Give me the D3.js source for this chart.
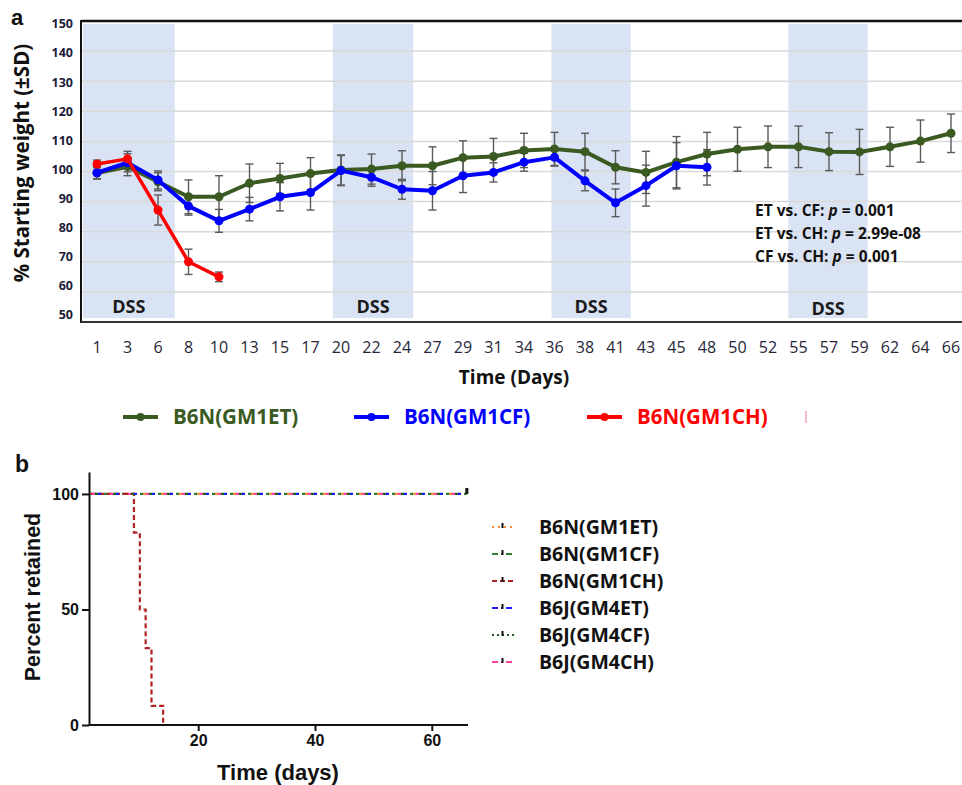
<!DOCTYPE html>
<html>
<head>
<meta charset="utf-8">
<script src="https://cdn.jsdelivr.net/npm/d3@7"></script>
<style>
  body { margin: 0; background: #fff; }
  svg { display: block; }
</style>
</head>
<body>
<svg id="fig" width="962" height="785"></svg>
<script>
// ---------- panel a : body weight ----------
var days = [1, 3, 6, 8, 10, 13, 15, 17, 20, 22, 24, 27, 29, 31, 34, 36, 38, 41, 43, 45, 48, 50, 52, 55, 57, 59, 62, 64, 66];
var etMean = [99.5, 101.6, 96.6, 91.6, 91.6, 96.1, 97.7, 99.3, 100.5, 100.8, 101.9, 101.9, 104.6, 105.0, 107.0, 107.5, 106.6, 101.4, 99.7, 103.1, 105.8, 107.4, 108.2, 108.2, 106.6, 106.5, 108.2, 110.1, 112.7];
var etSD = [2, 3, 3, 5.6, 7, 6.4, 5, 5.3, 5, 5, 5, 6.3, 5.6, 6, 5.7, 5.5, 6.1, 5.5, 7, 8.5, 7.2, 7.3, 6.9, 6.9, 6.3, 7.5, 6.5, 7, 6.4];
var cfMean = [99.6, 102.9, 97.2, 88.5, 83.6, 87.5, 91.6, 93.0, 100.3, 98.1, 94.1, 93.6, 98.6, 99.7, 103.1, 104.7, 96.9, 89.6, 95.3, 101.9, 101.4];
var cfSD = [2, 3, 3, 3, 3.8, 3.9, 4.7, 5.8, 5, 3, 3.3, 6.4, 5.6, 3.2, 3, 2.9, 3.3, 4.6, 6.8, 7.7, 5.9];
var chMean = [102.5, 104.2, 87.2, 70.0, 65.0];
var chSD = [1.3, 2.5, 5, 4.2, 1.6];
var yTicks = [50, 60, 70, 80, 90, 100, 110, 120, 130, 140, 150];
var dssPeriods = [[0, 7.1], [19.2, 25.1], [35.8, 42], [54, 59.8]];
var pTests = ["ET vs. CF: ", "ET vs. CH: ", "CF vs. CH: "];
var pValues = ["0.001", "2.99e-08", "0.001"];
var weightNames = ["B6N(GM1ET)", "B6N(GM1CF)", "B6N(GM1CH)"];
var weightColors = ["#3a5a22", "#0000ff", "#ff0000"];

// ---------- panel b : retention ----------
var retNames = ["B6N(GM1ET)", "B6N(GM1CF)", "B6N(GM1CH)", "B6J(GM4ET)", "B6J(GM4CF)", "B6J(GM4CH)"];
var retColors = ["#f7893b", "#2e7d32", "#b22222", "#1a1aff", "#1b5e20", "#ff3f9f"];
var retDash = ["2,4", "6,3,2,3", "5,3", "6,3,2,3", "2,3", "6,3,2,3"];
var chRetDays = [0, 9, 10, 11, 12, 14];
var chRetPct = [100, 83.3, 50, 33.3, 8.3, 0];
var flatDays = [0, 66];
var flatPct = [100, 100];
var bTicksX = [20, 40, 60];
var bTicksY = [0, 50, 100];

var svg = d3.select("#fig");
var calibri = "'Open Sans', 'Noto Sans', sans-serif";
var arial = "'Liberation Sans', Arial, sans-serif";

//************************ panel a *************************/
var plotL = 81, plotR = 962, plotT = 21, plotB = 322;
var x = d3.scalePoint().domain(days).range([97, 951]);
var y = d3.scaleLinear().domain([50, 150]).range([plotB, plotT]);
var yLab = d3.scaleLinear().domain([50, 150]).range([315, 24]);

// day -> pixel, interpolating between the category positions
function dayToX(d) {
  var i = d3.bisectRight(days, d) - 1;
  i = Math.max(0, Math.min(days.length - 2, i));
  var t = (d - days[i]) / (days[i + 1] - days[i]);
  return x(days[i]) + t * (x(days[i + 1]) - x(days[i]));
}
function bandX0(d) { return Math.max(plotL + 2, dayToX(d[0])); }

var ga = svg.append("g");

// DSS shading
ga.selectAll("rect.dss").data(dssPeriods).enter().append("rect")
  .attr("class", "dss")
  .attr("x", bandX0)
  .attr("width", d => dayToX(d[1]) - bandX0(d))
  .attr("y", y(149))
  .attr("height", y(51.3) - y(149))
  .attr("fill", "#dae3f3");

// gridlines
ga.selectAll("line.grid").data(yTicks.filter(v => v > 50 && v < 150)).enter().append("line")
  .attr("x1", plotL).attr("x2", plotR)
  .attr("y1", d => y(d)).attr("y2", d => y(d))
  .attr("stroke", "#d9d9d9").attr("stroke-width", 1.5);

ga.selectAll("text.dss").data(dssPeriods).enter().append("text")
  .attr("x", d => (bandX0(d) + dayToX(d[1])) / 2)
  .attr("y", (d, i) => i == 3 ? 309 : 307).attr("dy", "0.35em")
  .attr("text-anchor", "middle")
  .attr("font-family", calibri).attr("font-weight", "bold").attr("font-size", 18)
  .attr("fill", "#1a1a1a")
  .text("DSS");

// frame
ga.append("line").attr("x1", plotL).attr("x2", plotR).attr("y1", plotT).attr("y2", plotT)
  .attr("stroke", "#111").attr("stroke-width", 2.5);
ga.append("line").attr("x1", plotL).attr("x2", plotL).attr("y1", plotT - 1).attr("y2", plotB + 1)
  .attr("stroke", "#111").attr("stroke-width", 2);
ga.append("line").attr("x1", plotL).attr("x2", plotR).attr("y1", plotB).attr("y2", plotB)
  .attr("stroke", "#333").attr("stroke-width", 2);

// y tick labels
ga.selectAll("text.ylab").data(yTicks).enter().append("text")
  .attr("x", 73).attr("y", d => yLab(d)).attr("dy", "0.35em")
  .attr("text-anchor", "end")
  .attr("font-family", calibri).attr("font-weight", "bold").attr("font-size", 12.5)
  .attr("fill", "#1c1c38")
  .text(d => d);

// x tick labels
ga.selectAll("text.xlab").data(days).enter().append("text")
  .attr("x", d => x(d)).attr("y", 347).attr("dy", "0.35em")
  .attr("text-anchor", "middle")
  .attr("font-family", calibri).attr("font-size", 16)
  .attr("fill", "#262638")
  .text(d => d);

ga.append("text").attr("x", 514).attr("y", 377).attr("dy", "0.35em")
  .attr("text-anchor", "middle")
  .attr("font-family", calibri).attr("font-weight", "bold").attr("font-size", 19)
  .attr("fill", "#111").text("Time (Days)");

ga.append("text").attr("transform", "translate(22,163) rotate(-90)").attr("dy", "0.35em")
  .attr("text-anchor", "middle")
  .attr("font-family", calibri).attr("font-weight", "bold").attr("font-size", 20.5)
  .attr("fill", "#111").text("% Starting  weight (\u00b1SD)");

ga.append("text").attr("x", 11).attr("y", 25)
  .attr("font-family", arial).attr("font-weight", "bold").attr("font-size", 22)
  .attr("fill", "#111").text("a");

// series
var series = [
  { mean: etMean, sd: etSD },
  { mean: cfMean, sd: cfSD },
  { mean: chMean, sd: chSD }
];

// error bars first
series.forEach(function(s) {
  var bars = ga.append("g").attr("stroke", "#5a5a5a").attr("stroke-width", 1.4);
  s.mean.forEach(function(m, i) {
    var cx = x(days[i]), y0 = y(m - s.sd[i]), y1 = y(m + s.sd[i]);
    bars.append("line").attr("x1", cx).attr("x2", cx).attr("y1", y0).attr("y2", y1);
    bars.append("line").attr("x1", cx - 4).attr("x2", cx + 4).attr("y1", y0).attr("y2", y0);
    bars.append("line").attr("x1", cx - 4).attr("x2", cx + 4).attr("y1", y1).attr("y2", y1);
  });
});

series.forEach(function(s, k) {
  var line = d3.line().x((d, i) => x(days[i])).y(d => y(d));
  ga.append("path").datum(s.mean)
    .attr("d", line)
    .attr("fill", "none")
    .attr("stroke", weightColors[k])
    .attr("stroke-width", k == 2 ? 3.5 : 4)
    .attr("stroke-linejoin", "round");
  ga.selectAll(null).data(s.mean).enter().append("circle")
    .attr("cx", (d, i) => x(days[i])).attr("cy", d => y(d))
    .attr("r", 4.5).attr("fill", weightColors[k]);
});

// p-values
pTests.forEach(function(t, i) {
  var txt = ga.append("text").attr("x", 755).attr("y", 211 + i * 23).attr("dy", "0.35em")
    .attr("font-family", calibri).attr("font-weight", "bold").attr("font-size", 15.5)
    .attr("fill", "#111");
  txt.append("tspan").text(t);
  txt.append("tspan").attr("font-style", "italic").text("p");
  txt.append("tspan").text(" = " + pValues[i]);
});

// legend a
var legX = [123, 354, 587];
weightNames.forEach(function(n, i) {
  var g = ga.append("g").attr("transform", "translate(" + legX[i] + ",417)");
  g.append("line").attr("x1", 0).attr("x2", 35).attr("stroke", weightColors[i]).attr("stroke-width", 4);
  g.append("circle").attr("cx", 17.5).attr("r", 4).attr("fill", weightColors[i]);
  g.append("text").attr("x", 50).attr("dy", "0.35em")
    .attr("font-family", calibri).attr("font-weight", "bold").attr("font-size", 20.5)
    .attr("fill", weightColors[i]).text(n);
});
ga.append("rect").attr("x", 805).attr("y", 411).attr("width", 2).attr("height", 12).attr("fill", "#f3b6d4");

//************************ panel b *************************/
var xb = d3.scaleLinear().domain([1.3, 66.2]).range([89, 468]).clamp(true);
var yb = d3.scaleLinear().domain([0, 109.5]).range([725, 472]);
var gb = svg.append("g");

gb.append("text").attr("x", 15).attr("y", 472)
  .attr("font-family", arial).attr("font-weight", "bold").attr("font-size", 23)
  .attr("fill", "#111").text("b");

var lineB = d3.line().x(d => xb(d[0])).y(d => yb(d[1])).curve(d3.curveStepAfter);
retNames.forEach(function(n, i) {
  var pts = i == 2 ? chRetDays.map((d, j) => [d, chRetPct[j]]) : flatDays.map((d, j) => [d, flatPct[j]]);
  gb.append("path").datum(pts)
    .attr("d", lineB)
    .attr("fill", "none")
    .attr("stroke", retColors[i])
    .attr("stroke-width", 2.2)
    .attr("stroke-dasharray", i == 2 ? "5,3" : "3,15")
    .attr("stroke-dashoffset", i * 3);
});
// censor marks at the end
gb.append("rect").attr("x", xb(66) - 1.5).attr("y", yb(100) - 6).attr("width", 3).attr("height", 6).attr("fill", "#111");

var yAxisB = gb.append("g").attr("transform", "translate(89,0)")
  .call(d3.axisLeft(yb).tickValues(bTicksY).tickSize(7).tickSizeOuter(0).tickPadding(3));
var xAxisB = gb.append("g").attr("transform", "translate(0,725)")
  .call(d3.axisBottom(xb).tickValues(bTicksX).tickSize(6).tickSizeOuter(0).tickPadding(4));
[yAxisB, xAxisB].forEach(function(a) {
  a.select(".domain").attr("stroke", "#111").attr("stroke-width", 2);
  a.selectAll(".tick line").attr("stroke", "#111").attr("stroke-width", 2);
  a.selectAll(".tick text").attr("font-family", arial).attr("font-weight", "bold")
    .attr("font-size", 16).attr("fill", "#111");
});
xAxisB.select(".domain").attr("d", "M89,0H468");

gb.append("text").attr("x", 278).attr("y", 772).attr("dy", "0.35em")
  .attr("text-anchor", "middle")
  .attr("font-family", arial).attr("font-weight", "bold").attr("font-size", 22)
  .attr("fill", "#111").text("Time (days)");

gb.append("text").attr("transform", "translate(32,597) rotate(-90)").attr("dy", "0.35em")
  .attr("text-anchor", "middle")
  .attr("font-family", arial).attr("font-weight", "bold").attr("font-size", 21.5)
  .attr("fill", "#111").text("Percent retained");

// legend b
retNames.forEach(function(n, i) {
  var g = gb.append("g").attr("transform", "translate(492," + (527 + i * 27) + ")");
  g.append("line").attr("x1", 0).attr("x2", 22)
    .attr("stroke", retColors[i]).attr("stroke-width", 2)
    .attr("stroke-dasharray", retDash[i]);
  g.append("rect").attr("x", 9.5).attr("y", -4).attr("width", 2).attr("height", 5).attr("fill", "#111");
  g.append("text").attr("x", 47).attr("dy", "0.35em")
    .attr("font-family", calibri).attr("font-weight", "bold").attr("font-size", 19.5)
    .attr("fill", "#111").text(n);
});
</script>
</body>
</html>
